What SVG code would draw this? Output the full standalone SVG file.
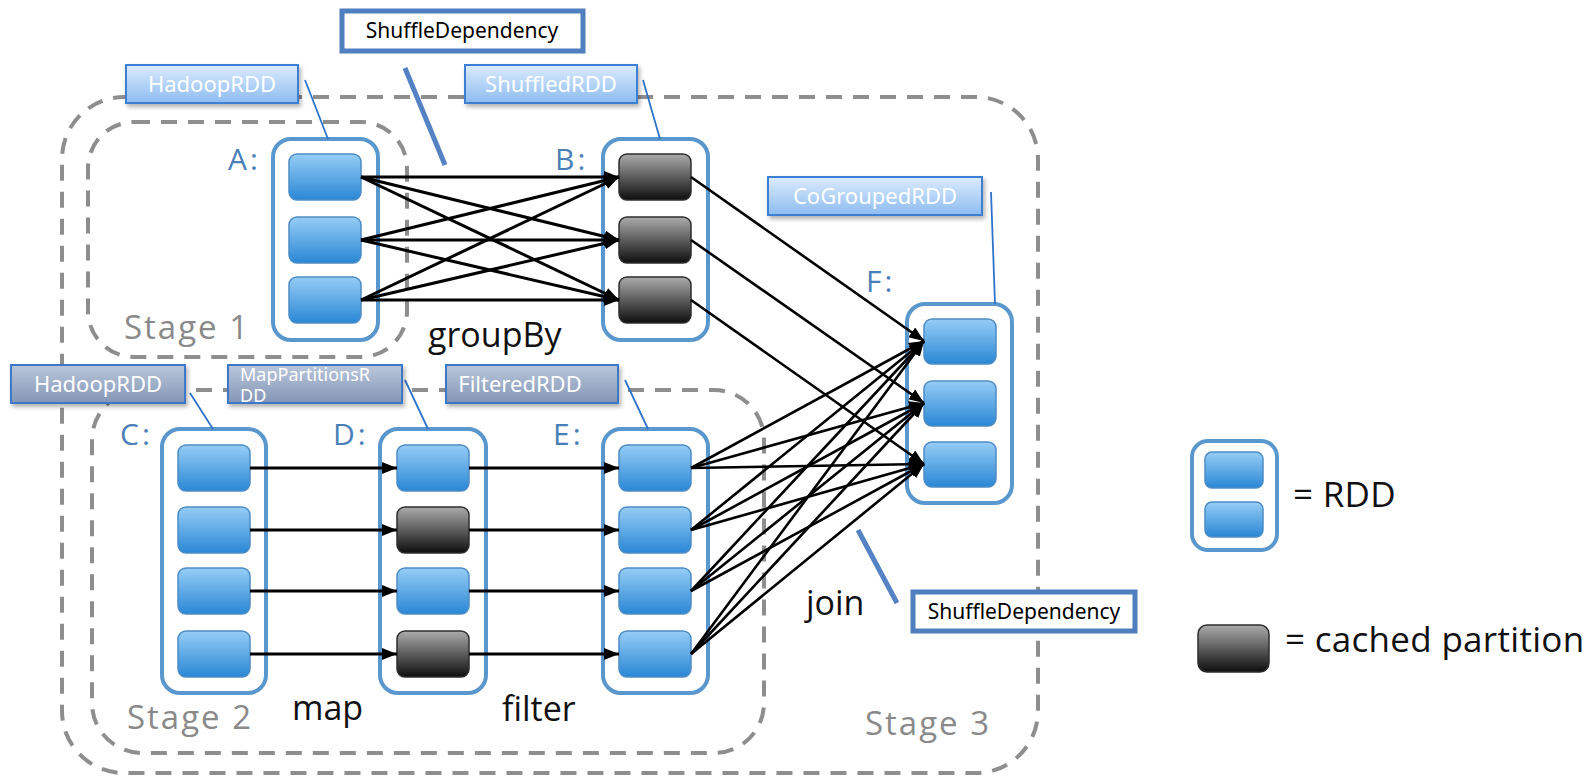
<svg xmlns="http://www.w3.org/2000/svg" width="1595" height="781" viewBox="0 0 1595 781">
  <style>
    .stage { fill: none; stroke: #8e8e8e; stroke-width: 4; stroke-dasharray: 16 11; }
    .rdd { fill: #ffffff; stroke: #5a97cc; stroke-width: 4; }
    .part { fill: url(#gPart); stroke: #4d8cc4; stroke-width: 1.5; }
    .cached { fill: url(#gCached); stroke: #2e2e2e; stroke-width: 1.5; }
    .letter { font-family: "Open Sans", "DejaVu Sans", sans-serif; font-size: 30px; fill: #4a7fb8; letter-spacing: 3px; }
    .stageText { font-family: "Open Sans", "DejaVu Sans", sans-serif; font-size: 33px; fill: #8a8a8a; letter-spacing: 2px; }
    .op { font-family: "Open Sans", "DejaVu Sans", sans-serif; font-size: 34px; fill: #111111; }
    .legend { font-family: "Open Sans", "DejaVu Sans", sans-serif; font-size: 35px; fill: #111111; letter-spacing: 0.3px; }
    .tag { fill: url(#gTag); stroke: #3c7fd0; stroke-width: 2; filter: url(#shadow); }
    .slate { fill: url(#gSlate); stroke: #3c78c8; stroke-width: 2; filter: url(#shadow); }
    .tagText { font-family: "Noto Sans", "DejaVu Sans", sans-serif; font-size: 22px; fill: #ffffff; }
    .smallText { font-family: "Noto Sans", "DejaVu Sans", sans-serif; font-size: 18px; fill: #ffffff; }
    .dep { fill: #ffffff; stroke: #4f7fbe; stroke-width: 5; }
    .depText { font-family: "Noto Sans", "DejaVu Sans", sans-serif; font-size: 21px; fill: #000000; }
    .pointer { stroke: #2f74c8; stroke-width: 1.8; fill: none; }
    .depPointer { stroke: #5582c2; stroke-width: 5; fill: none; }
    .edge { stroke: #000000; stroke-width: 3; fill: none; marker-end: url(#arrow); }
    .edgeThin { stroke: #000000; stroke-width: 2.6; fill: none; marker-end: url(#arrow); }
  </style>
  <defs>
    <linearGradient id="gPart" x1="0" y1="0" x2="0" y2="1">
      <stop offset="0" stop-color="#96cdf6"/>
      <stop offset="1" stop-color="#2a87d5"/>
    </linearGradient>
    <linearGradient id="gCached" x1="0" y1="0" x2="0" y2="1">
      <stop offset="0" stop-color="#ababab"/>
      <stop offset="1" stop-color="#0e0e0e"/>
    </linearGradient>
    <linearGradient id="gTag" x1="0" y1="0" x2="0" y2="1">
      <stop offset="0" stop-color="#dcebfd"/>
      <stop offset="1" stop-color="#8dbcf0"/>
    </linearGradient>
    <linearGradient id="gSlate" x1="0" y1="0" x2="0" y2="1">
      <stop offset="0" stop-color="#bac7db"/>
      <stop offset="1" stop-color="#8496b6"/>
    </linearGradient>
    <filter id="shadow" x="-10%" y="-20%" width="125%" height="160%">
      <feDropShadow dx="2" dy="3" stdDeviation="2" flood-color="#000" flood-opacity="0.3"/>
    </filter>
    <marker id="arrow" viewBox="0 0 15 12" refX="15" refY="6" markerWidth="15" markerHeight="12" markerUnits="userSpaceOnUse" orient="auto">
      <path d="M0,0 L15,6 L0,12 z" fill="#000000"/>
    </marker>
  </defs>

  <!-- stage boundaries -->
  <g id="stages">
    <rect id="stage3" class="stage" x="62" y="97" width="976" height="676" rx="62"/>
    <rect id="stage1" class="stage" x="88" y="122" width="319" height="235" rx="46"/>
    <rect id="stage2" class="stage" x="92" y="390" width="672" height="363" rx="50"/>
    <text class="stageText" x="124" y="339">Stage 1</text>
    <text class="stageText" x="127" y="729">Stage 2</text>
    <text class="stageText" x="865" y="735">Stage 3</text>
  </g>

  <!-- RDD A -->
  <g id="rddA">
    <rect class="rdd" x="273" y="139" width="105" height="201" rx="18"/>
    <rect class="part" x="289" y="154" width="72" height="46" rx="8"/>
    <rect class="part" x="289" y="217" width="72" height="46" rx="8"/>
    <rect class="part" x="289" y="277" width="72" height="46" rx="8"/>
    <text class="letter" x="228" y="170">A:</text>
  </g>

  <!-- RDD B -->
  <g id="rddB">
    <rect class="rdd" x="603" y="139" width="105" height="201" rx="18"/>
    <rect class="cached" x="619" y="154" width="72" height="46" rx="8"/>
    <rect class="cached" x="619" y="217" width="72" height="46" rx="8"/>
    <rect class="cached" x="619" y="277" width="72" height="46" rx="8"/>
    <text class="letter" x="555" y="170">B:</text>
  </g>

  <!-- RDD F -->
  <g id="rddF">
    <rect class="rdd" x="907" y="304" width="105" height="199" rx="18"/>
    <rect class="part" x="924" y="319" width="72" height="45" rx="8"/>
    <rect class="part" x="924" y="381" width="72" height="45" rx="8"/>
    <rect class="part" x="924" y="442" width="72" height="45" rx="8"/>
    <text class="letter" x="866" y="292">F:</text>
  </g>

  <!-- RDD C -->
  <g id="rddC">
    <rect class="rdd" x="162" y="429" width="104" height="264" rx="18"/>
    <rect class="part" x="178" y="445" width="72" height="46" rx="8"/>
    <rect class="part" x="178" y="507" width="72" height="46" rx="8"/>
    <rect class="part" x="178" y="568" width="72" height="46" rx="8"/>
    <rect class="part" x="178" y="631" width="72" height="46" rx="8"/>
    <text class="letter" x="120" y="445">C:</text>
  </g>

  <!-- RDD D -->
  <g id="rddD">
    <rect class="rdd" x="380" y="429" width="106" height="264" rx="18"/>
    <rect class="part" x="397" y="445" width="72" height="46" rx="8"/>
    <rect class="cached" x="397" y="507" width="72" height="46" rx="8"/>
    <rect class="part" x="397" y="568" width="72" height="46" rx="8"/>
    <rect class="cached" x="397" y="631" width="72" height="46" rx="8"/>
    <text class="letter" x="333" y="445">D:</text>
  </g>

  <!-- RDD E -->
  <g id="rddE">
    <rect class="rdd" x="603" y="429" width="105" height="264" rx="18"/>
    <rect class="part" x="619" y="445" width="72" height="46" rx="8"/>
    <rect class="part" x="619" y="507" width="72" height="46" rx="8"/>
    <rect class="part" x="619" y="568" width="72" height="46" rx="8"/>
    <rect class="part" x="619" y="631" width="72" height="46" rx="8"/>
    <text class="letter" x="553" y="445">E:</text>
  </g>

  <!-- operation names -->
  <g id="operations">
    <text class="op" x="428" y="347">groupBy</text>
    <text class="op" x="292" y="720">map</text>
    <text class="op" x="502" y="721">filter</text>
    <text class="op" x="806" y="615">join</text>
  </g>

  <!-- dependencies between partitions -->
  <g id="connectors">
    <!-- groupBy: A -> B, all to all -->
    <line class="edge" x1="361" y1="177" x2="619" y2="177"/>
    <line class="edge" x1="361" y1="177" x2="619" y2="240"/>
    <line class="edge" x1="361" y1="177" x2="619" y2="300"/>
    <line class="edge" x1="361" y1="240" x2="619" y2="177"/>
    <line class="edge" x1="361" y1="240" x2="619" y2="240"/>
    <line class="edge" x1="361" y1="240" x2="619" y2="300"/>
    <line class="edge" x1="361" y1="300" x2="619" y2="177"/>
    <line class="edge" x1="361" y1="300" x2="619" y2="240"/>
    <line class="edge" x1="361" y1="300" x2="619" y2="300"/>
    <!-- join: B -> F, one to one -->
    <line class="edgeThin" x1="691" y1="177" x2="924" y2="341"/>
    <line class="edgeThin" x1="691" y1="240" x2="924" y2="403"/>
    <line class="edgeThin" x1="691" y1="300" x2="924" y2="464"/>
    <!-- join: E -> F, all to all -->
    <line class="edgeThin" x1="691" y1="468" x2="924" y2="341"/>
    <line class="edgeThin" x1="691" y1="468" x2="924" y2="403"/>
    <line class="edgeThin" x1="691" y1="468" x2="924" y2="464"/>
    <line class="edgeThin" x1="691" y1="530" x2="924" y2="341"/>
    <line class="edgeThin" x1="691" y1="530" x2="924" y2="403"/>
    <line class="edgeThin" x1="691" y1="530" x2="924" y2="464"/>
    <line class="edgeThin" x1="691" y1="591" x2="924" y2="341"/>
    <line class="edgeThin" x1="691" y1="591" x2="924" y2="403"/>
    <line class="edgeThin" x1="691" y1="591" x2="924" y2="464"/>
    <line class="edgeThin" x1="691" y1="654" x2="924" y2="341"/>
    <line class="edgeThin" x1="691" y1="654" x2="924" y2="403"/>
    <line class="edgeThin" x1="691" y1="654" x2="924" y2="464"/>
    <!-- map: C -> D -->
    <line class="edge" x1="250" y1="468" x2="397" y2="468"/>
    <line class="edge" x1="250" y1="530" x2="397" y2="530"/>
    <line class="edge" x1="250" y1="591" x2="397" y2="591"/>
    <line class="edge" x1="250" y1="654" x2="397" y2="654"/>
    <!-- filter: D -> E -->
    <line class="edge" x1="469" y1="468" x2="619" y2="468"/>
    <line class="edge" x1="469" y1="530" x2="619" y2="530"/>
    <line class="edge" x1="469" y1="591" x2="619" y2="591"/>
    <line class="edge" x1="469" y1="654" x2="619" y2="654"/>
  </g>

  <!-- RDD class tags -->
  <g id="tagHadoopA">
    <line class="pointer" x1="305" y1="80" x2="328" y2="139"/>
    <rect class="tag" x="126" y="65" width="172" height="38"/>
    <text class="tagText" x="212" y="92" text-anchor="middle">HadoopRDD</text>
  </g>
  <g id="tagShuffled">
    <line class="pointer" x1="643" y1="80" x2="660" y2="139"/>
    <rect class="tag" x="465" y="65" width="172" height="38"/>
    <text class="tagText" x="551" y="92" text-anchor="middle">ShuffledRDD</text>
  </g>
  <g id="tagCoGrouped">
    <line class="pointer" x1="991" y1="192" x2="995" y2="304"/>
    <rect class="tag" x="768" y="177" width="214" height="38"/>
    <text class="tagText" x="875" y="204" text-anchor="middle">CoGroupedRDD</text>
  </g>
  <g id="tagHadoopC">
    <line class="pointer" x1="190" y1="393" x2="213" y2="429"/>
    <rect class="slate" x="11" y="365" width="174" height="38"/>
    <text class="tagText" x="98" y="392" text-anchor="middle">HadoopRDD</text>
  </g>
  <g id="tagMapPartitions">
    <line class="pointer" x1="405" y1="380" x2="428" y2="429"/>
    <rect class="slate" x="228" y="365" width="174" height="38"/>
    <text class="smallText" x="240" y="381">MapPartitionsR</text>
    <text class="smallText" x="240" y="402">DD</text>
  </g>
  <g id="tagFiltered">
    <line class="pointer" x1="625" y1="380" x2="648" y2="429"/>
    <rect class="slate" x="446" y="365" width="172" height="38"/>
    <text class="tagText" x="520" y="392" text-anchor="middle">FilteredRDD</text>
  </g>

  <!-- shuffle dependency callouts -->
  <g id="depGroupBy">
    <line class="depPointer" x1="405" y1="68" x2="445" y2="165"/>
    <rect class="dep" x="342" y="11" width="241" height="40"/>
    <text class="depText" x="462" y="38" text-anchor="middle">ShuffleDependency</text>
  </g>
  <g id="depJoin">
    <line class="depPointer" x1="858" y1="530" x2="897" y2="603"/>
    <rect class="dep" x="913" y="592" width="222" height="39"/>
    <text class="depText" x="1024" y="619" text-anchor="middle">ShuffleDependency</text>
  </g>

  <!-- legend -->
  <g id="legendRdd">
    <rect class="rdd" x="1192" y="441" width="85" height="109" rx="16"/>
    <rect class="part" x="1205" y="452" width="58" height="36" rx="7"/>
    <rect class="part" x="1205" y="502" width="58" height="35" rx="7"/>
    <text class="legend" x="1293" y="507">= RDD</text>
  </g>
  <g id="legendCached">
    <rect class="cached" x="1198" y="625" width="71" height="47" rx="9"/>
    <text class="legend" x="1285" y="652">= cached partition</text>
  </g>
</svg>
